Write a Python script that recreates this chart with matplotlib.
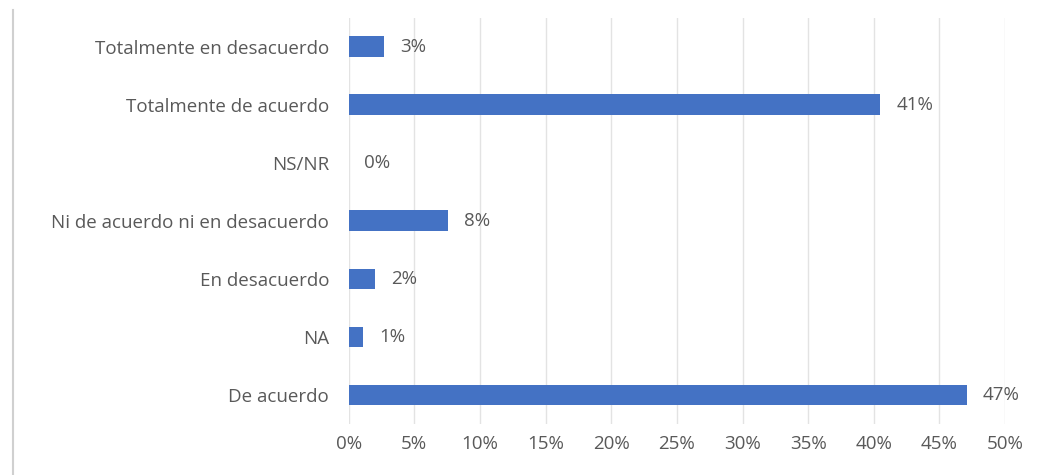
import matplotlib
matplotlib.use('Agg')
from matplotlib import pyplot as plt
from matplotlib.lines import Line2D
from matplotlib.ticker import FuncFormatter

categorias = ['Totalmente en desacuerdo', 'Totalmente de acuerdo', 'NS/NR',
              'Ni de acuerdo ni en desacuerdo', 'En desacuerdo', 'NA', 'De acuerdo']
valores = [0.027, 0.405, 0.0, 0.076, 0.020, 0.011, 0.471]
etiquetas = ['3%', '41%', '0%', '8%', '2%', '1%', '47%']

plt.rcParams['font.family'] = ['Open Sans', 'DejaVu Sans']

fig = plt.figure(figsize=(10.47, 4.75), dpi=100)
ax = fig.add_axes([0.333, 0.108, 0.627, 0.855])

y = list(range(len(categorias)))[::-1]
ax.barh(y, valores, height=0.35, color='#4472C4', zorder=3)

for yi, v, t in zip(y, valores, etiquetas):
    ax.text(v + 0.012, yi, t, va='center', ha='left', fontsize=13.5, color='#595959')

ax.set_yticks(y)
ax.set_yticklabels(categorias)
ax.set_xlim(0, 0.5)
ax.set_ylim(-0.5, len(categorias) - 0.5)
ax.set_xticks([i * 0.05 for i in range(11)])
ax.xaxis.set_major_formatter(FuncFormatter(lambda x, p: f'{x * 100:.0f}%'))
ax.grid(axis='x', color='#E3E3E3', linewidth=1, zorder=0)
ax.tick_params(length=0, labelsize=13.5, colors='#595959', pad=8)
ax.tick_params(axis='y', pad=14)
for s in ax.spines.values():
    s.set_visible(False)

# borde izquierdo del recuadro
fig.add_artist(Line2D([0.012, 0.012], [0.0, 0.98], color='#D0D0D0', linewidth=1.5))

plt.savefig('out.png', dpi=100, facecolor='white')
